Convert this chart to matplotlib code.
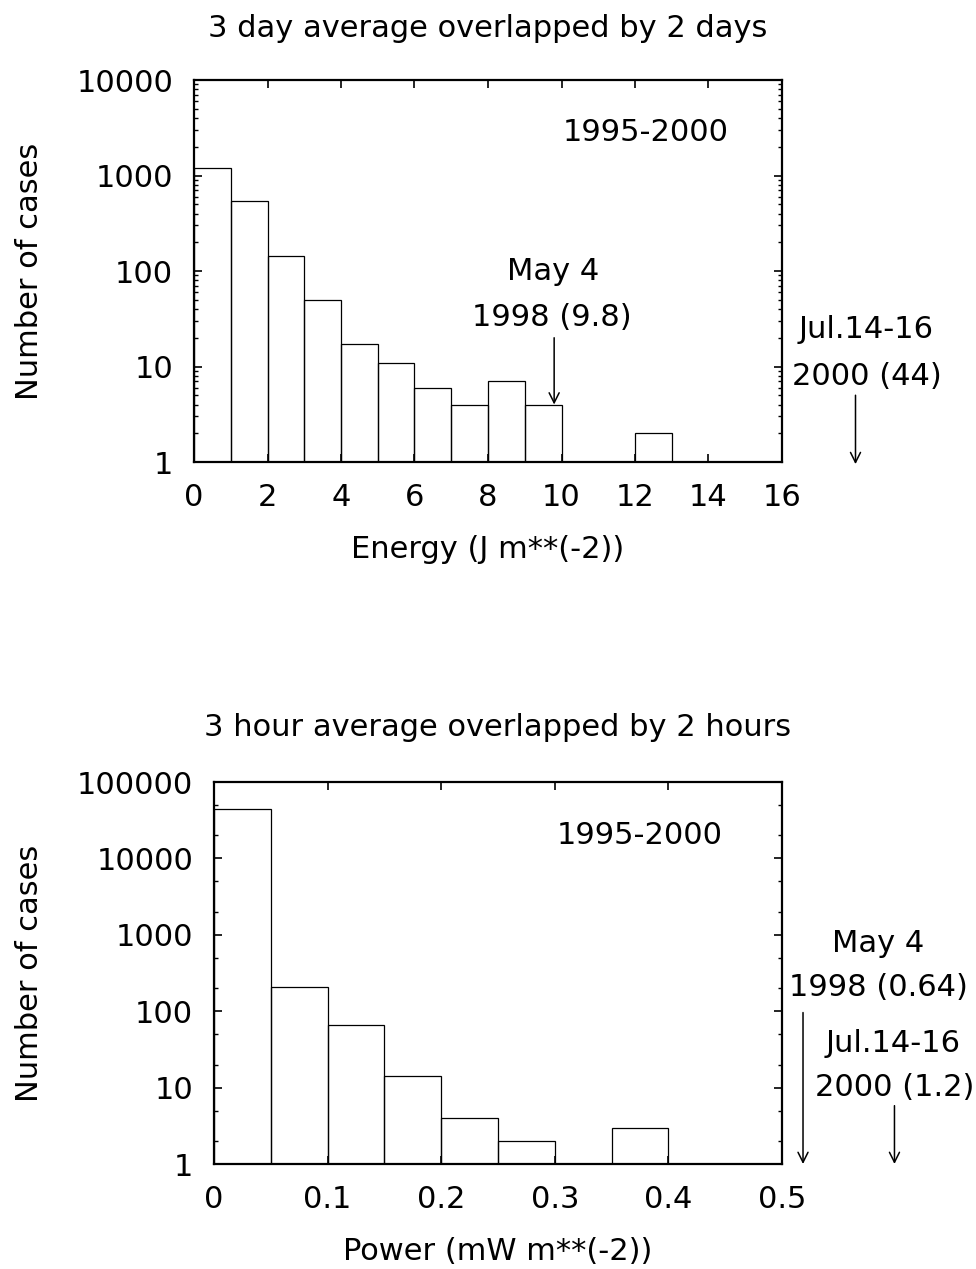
import matplotlib
matplotlib.use("Agg")
import matplotlib.pyplot as plt
import numpy as np
from matplotlib.ticker import LogLocator, FixedLocator, NullFormatter

# --- data ---
energy_edges = [0, 1, 2, 3, 4, 5, 6, 7, 8, 9, 10, 11, 12, 13, 14, 15, 16]
energy_counts = [1210, 539, 143, 50, 17, 11, 6, 4, 7, 4, 0, 0, 2, 0, 0, 0]
energy_ticks = [0, 2, 4, 6, 8, 10, 12, 14, 16]
energy_yticks = [1, 10, 100, 1000, 10000]

power_edges = [0, 0.05, 0.1, 0.15, 0.2, 0.25, 0.3, 0.35, 0.4, 0.45, 0.5]
power_counts = [44200, 209, 65, 14, 4, 2, 0, 3, 0, 0]
power_ticks = [0, 0.1, 0.2, 0.3, 0.4, 0.5]
power_yticks = [1, 10, 100, 1000, 10000, 100000]

plt.rcParams['font.family'] = ['DejaVu Sans']
FS = 22

fig = plt.figure(figsize=(9.76, 12.69), dpi=100)
W, H = 976, 1269


def px_axes(left, top, right, bottom):
    return fig.add_axes([left / W, 1 - bottom / H, (right - left) / W, (bottom - top) / H])


def hist_boxes(ax, edges, counts):
    edges = np.asarray(edges, dtype=float)
    counts = np.asarray(counts, dtype=float)
    keep = counts > 0
    # boxes start at the log baseline 1, top at the count
    ax.bar(edges[:-1][keep], counts[keep] - 1, width=np.diff(edges)[keep], align='edge',
           bottom=1, fill=False, edgecolor='black', linewidth=0.9)


def style(ax, xticks, yticks, subs):
    ax.set_yscale('log')
    ax.set_ylim(yticks[0], yticks[-1])
    ax.set_xlim(xticks[0], xticks[-1])
    ax.set_xticks(xticks)
    ax.set_xticklabels([f"{t:g}" for t in xticks])
    ax.set_yticks(yticks)
    ax.set_yticklabels([str(int(t)) for t in yticks])
    ax.yaxis.set_minor_locator(LogLocator(base=10, subs=subs))
    ax.yaxis.set_minor_formatter(NullFormatter())
    ax.xaxis.set_minor_locator(FixedLocator([]))
    ax.tick_params(which='both', direction='in', top=True, right=True, labelsize=FS)
    ax.tick_params(which='major', length=6, width=1.2)
    ax.tick_params(which='minor', length=3, width=1.0)
    ax.tick_params(axis='x', pad=15)
    ax.tick_params(axis='y', pad=15)
    for s in ax.spines.values():
        s.set_linewidth(1.6)


arrow = dict(arrowstyle='->', color='black', lw=1.1, mutation_scale=18, shrinkA=0, shrinkB=0)

# ---------------- top panel ----------------
ax1 = px_axes(194, 80, 782, 462)
hist_boxes(ax1, energy_edges, energy_counts)
style(ax1, energy_ticks, energy_yticks, subs=np.arange(2, 10))
ax1.text(0.5, 1.136, "3 day average overlapped by 2 days", transform=ax1.transAxes,
         ha='center', va='center', fontsize=FS)
ax1.set_xlabel("Energy (J m**(-2))", fontsize=FS, va='center')
ax1.xaxis.set_label_coords(0.5, -0.23)
ax1.set_ylabel("Number of cases", fontsize=FS, va='center')
ax1.yaxis.set_label_coords(-0.279, 0.5)

ax1.text(12.3, 2850, "1995-2000", ha='center', va='center', fontsize=FS)
ax1.text(9.77, 98, "May 4", ha='center', va='center', fontsize=FS)
ax1.text(9.75, 32.5, "1998 (9.8)", ha='center', va='center', fontsize=FS)
ax1.annotate("", xy=(9.8, 4), xytext=(9.8, 20), arrowprops=arrow)
ax1.text(18.3, 24.4, "Jul.14-16", ha='center', va='center', fontsize=FS, clip_on=False)
ax1.text(18.3, 7.9, "2000 (44)", ha='center', va='center', fontsize=FS, clip_on=False)
ax1.annotate("", xy=(18.0, 0.95), xytext=(18.0, 5.0), arrowprops=arrow, annotation_clip=False)

# ---------------- bottom panel ----------------
ax2 = px_axes(214, 782, 782, 1164)
hist_boxes(ax2, power_edges, power_counts)
style(ax2, power_ticks, power_yticks, subs=[2, 5])
ax2.text(0.5, 1.142, "3 hour average overlapped by 2 hours", transform=ax2.transAxes,
         ha='center', va='center', fontsize=FS)
ax2.set_xlabel("Power (mW m**(-2))", fontsize=FS, va='center')
ax2.xaxis.set_label_coords(0.5, -0.23)
ax2.set_ylabel("Number of cases", fontsize=FS, va='center')
ax2.yaxis.set_label_coords(-0.324, 0.5)

ax2.text(0.375, 20200, "1995-2000", ha='center', va='center', fontsize=FS)
ax2.text(0.5845, 773, "May 4", ha='center', va='center', fontsize=FS, clip_on=False)
ax2.text(0.5845, 205, "1998 (0.64)", ha='center', va='center', fontsize=FS, clip_on=False)
ax2.annotate("", xy=(0.5185, 1.0), xytext=(0.5185, 96), arrowprops=arrow, annotation_clip=False)
ax2.text(0.5977, 37.8, "Jul.14-16", ha='center', va='center', fontsize=FS, clip_on=False)
ax2.text(0.5995, 10, "2000 (1.2)", ha='center', va='center', fontsize=FS, clip_on=False)
ax2.annotate("", xy=(0.599, 1.0), xytext=(0.599, 5.8), arrowprops=arrow, annotation_clip=False)

fig.savefig("out.png", dpi=100)
